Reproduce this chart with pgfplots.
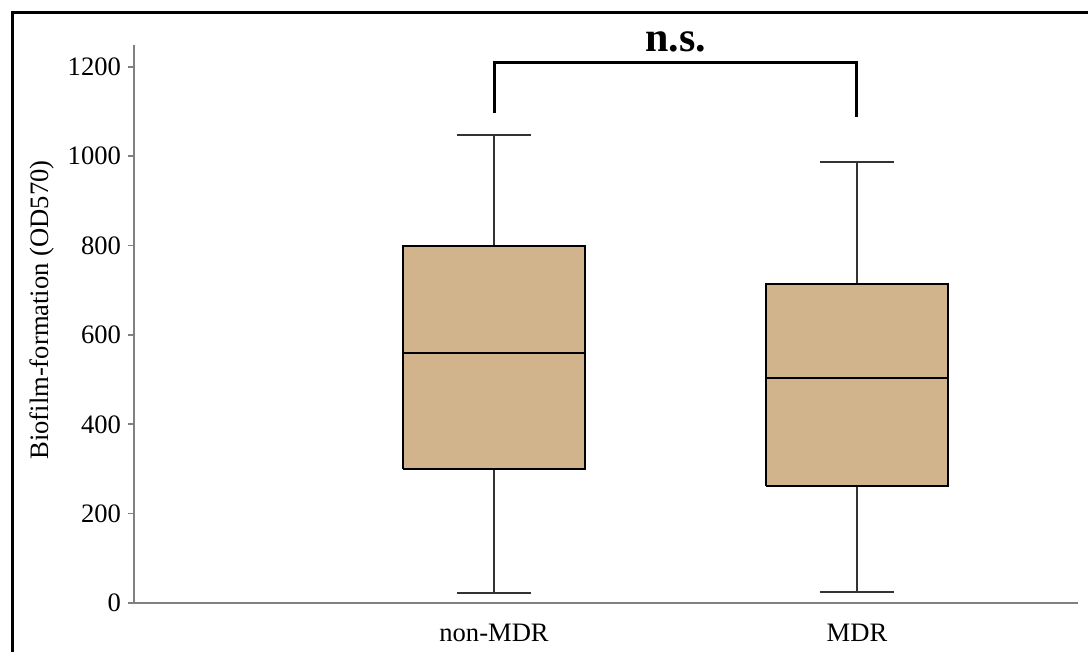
\documentclass[border=0pt]{standalone}
\usepackage{fontspec}
\setmainfont{Liberation Serif}
\usepackage{pgfplots}
\pgfplotsset{compat=1.18}
\definecolor{boxtan}{HTML}{D2B48C}
\definecolor{axgray}{HTML}{808080}
\definecolor{whisk}{HTML}{333333}
\begin{document}
\begin{tikzpicture}
\useasboundingbox (0,0) rectangle (544pt,326pt);
\draw[line width=1.5pt] (6.25pt,-20pt) -- (6.25pt,319.75pt) -- (570pt,319.75pt);
\begin{axis}[
  at={(67pt,24.5pt)}, anchor=south west,
  scale only axis, width=472pt, height=279pt,
  xmin=0.008, xmax=2.609, ymin=0, ymax=1249,
  axis lines*=left,
  axis line style={axgray, line width=1pt},
  xtick={1,2}, xticklabels={non-MDR, MDR},
  x tick style={draw=none},
  ytick={0,200,400,600,800,1000,1200},
  y tick style={axgray, line width=0.8pt},
  tick align=outside, major tick length=3pt,
  /pgf/number format/assume math mode=true,
  /pgf/number format/1000 sep={},
  tick label style={font=\fontsize{13.3}{15}\selectfont},
  xticklabel style={yshift=-4pt},
  ylabel={Biofilm-formation (OD570)},
  ylabel style={font=\fontsize{13.3}{15}\selectfont, at={(ticklabel cs:0.525)}, yshift=0pt},
  clip=false,
]
% non-MDR: whiskers 22 / 1047, quartiles 299 / 799, median 559
\addplot[whisk, line width=1pt] coordinates {(1,22) (1,299)};
\addplot[whisk, line width=1pt] coordinates {(1,799) (1,1047)};
\addplot[whisk, line width=1pt] coordinates {(0.8975,22) (1.1025,22)};
\addplot[whisk, line width=1pt] coordinates {(0.8975,1047) (1.1025,1047)};
\addplot[fill=boxtan, draw=black, line width=1pt, line join=miter] coordinates {(0.75,299) (1.25,299) (1.25,799) (0.75,799) (0.75,299)};
\addplot[black, line width=1pt] coordinates {(0.75,559) (1.25,559)};
% MDR: whiskers 25 / 987, quartiles 261 / 713, median 504
\addplot[whisk, line width=1pt] coordinates {(2,25) (2,261)};
\addplot[whisk, line width=1pt] coordinates {(2,713) (2,987)};
\addplot[whisk, line width=1pt] coordinates {(1.8975,25) (2.1025,25)};
\addplot[whisk, line width=1pt] coordinates {(1.8975,987) (2.1025,987)};
\addplot[fill=boxtan, draw=black, line width=1pt, line join=miter] coordinates {(1.75,261) (2.25,261) (2.25,713) (1.75,713) (1.75,261)};
\addplot[black, line width=1pt] coordinates {(1.75,504) (2.25,504)};
\draw[line width=1.5pt] (axis cs:1,1097) -- (axis cs:1,1209) -- (axis cs:2,1209) -- (axis cs:2,1088);
\node[font=\fontsize{21}{24}\selectfont\bfseries] at (axis cs:1.5,1257) {n.s.};
\end{axis}
\end{tikzpicture}
\end{document}
